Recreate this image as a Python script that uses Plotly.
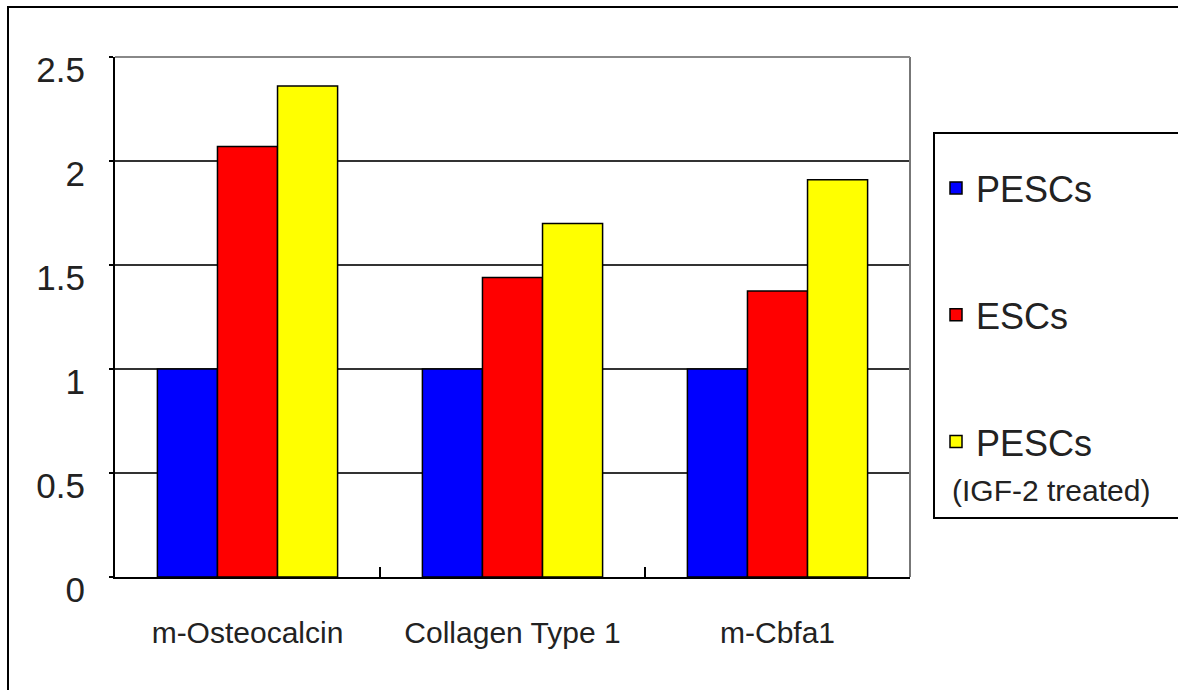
import plotly.graph_objects as go

categories = ["m-Osteocalcin", "Collagen Type 1", "m-Cbfa1"]
series_names = ["PESCs", "ESCs", "PESCs"]
pescs = [1.0, 1.0, 1.0]
escs = [2.07, 1.44, 1.375]
pescs_igf2 = [2.36, 1.70, 1.91]
y_ticks = [0, 0.5, 1, 1.5, 2, 2.5]
y_tick_labels = ["0", "0.5", "1", "1.5", "2", "2.5"]
legend_note = "(IGF-2 treated)"

colors = ["#0000FF", "#FF0000", "#FFFF00"]
FONT = "Liberation Sans, Arial, sans-serif"

W, H = 1178, 690
L, R, T, B = 115, 268, 57, 113
PW, PH = W - L - R, H - T - B

def px_x(x):
    return (x - L) / PW

def px_y(y):
    return (H - B - y) / PH

fig = go.Figure()
for i, (name, vals) in enumerate(zip(series_names, [pescs, escs, pescs_igf2])):
    fig.add_trace(go.Bar(
        x=categories, y=vals, name=name,
        marker=dict(color=colors[i], line=dict(color="black", width=1.5)),
        legendgroup=f"g{i}",
    ))

fig.update_layout(
    width=W, height=H,
    margin=dict(l=L, r=R, t=T, b=B),
    paper_bgcolor="white", plot_bgcolor="white",
    barmode="group", bargap=0.32, bargroupgap=0,
    font=dict(family=FONT, color="#222"),
    showlegend=True,
    legend=dict(
        x=px_x(936), y=px_y(158), xanchor="left", yanchor="top",
        font=dict(size=36, family=FONT, color="#222"),
        bgcolor="rgba(0,0,0,0)", borderwidth=0,
        tracegroupgap=77, traceorder="grouped",
    ),
    xaxis=dict(
        type="category", showgrid=False,
        showline=True, linecolor="black", linewidth=2,
        ticks="inside", ticklen=10, tickwidth=2, tickcolor="black",
        tickson="boundaries",
        tickfont=dict(size=30, family=FONT, color="#222"),
        ticklabelstandoff=28,
    ),
    yaxis=dict(
        range=[0, 2.5], tickvals=y_ticks, ticktext=y_tick_labels,
        showgrid=True, gridcolor="#333", gridwidth=2,
        showline=True, linecolor="black", linewidth=2,
        ticks="outside", ticklen=4, tickwidth=2, tickcolor="black",
        tickfont=dict(size=35, family=FONT, color="#222"),
        ticklabelstandoff=17, ticklabelshift=13,
        zeroline=False,
    ),
    shapes=[
        # outer frame
        dict(type="rect", xref="paper", yref="paper",
             x0=px_x(8), y0=px_y(H + 20), x1=px_x(W + 20), y1=px_y(7),
             line=dict(color="black", width=2), fillcolor="rgba(0,0,0,0)", layer="below"),
        # right side of plot area
        dict(type="line", xref="paper", yref="paper",
             x0=1, y0=0, x1=1, y1=1, line=dict(color="#777", width=2)),
        # top of plot area
        dict(type="line", xref="paper", yref="paper",
             x0=0, y0=1, x1=1, y1=1, line=dict(color="#888", width=2)),
        # legend box
        dict(type="rect", xref="paper", yref="paper",
             x0=px_x(934), y0=px_y(518), x1=px_x(W + 20), y1=px_y(133),
             line=dict(color="black", width=2), fillcolor="rgba(0,0,0,0)"),
    ],
    annotations=[
        dict(text=legend_note, xref="paper", yref="paper",
             x=px_x(950), y=px_y(490), xanchor="left", yanchor="middle",
             showarrow=False, font=dict(size=30, family=FONT, color="#222")),
    ],
)

fig.write_html("out.html")
